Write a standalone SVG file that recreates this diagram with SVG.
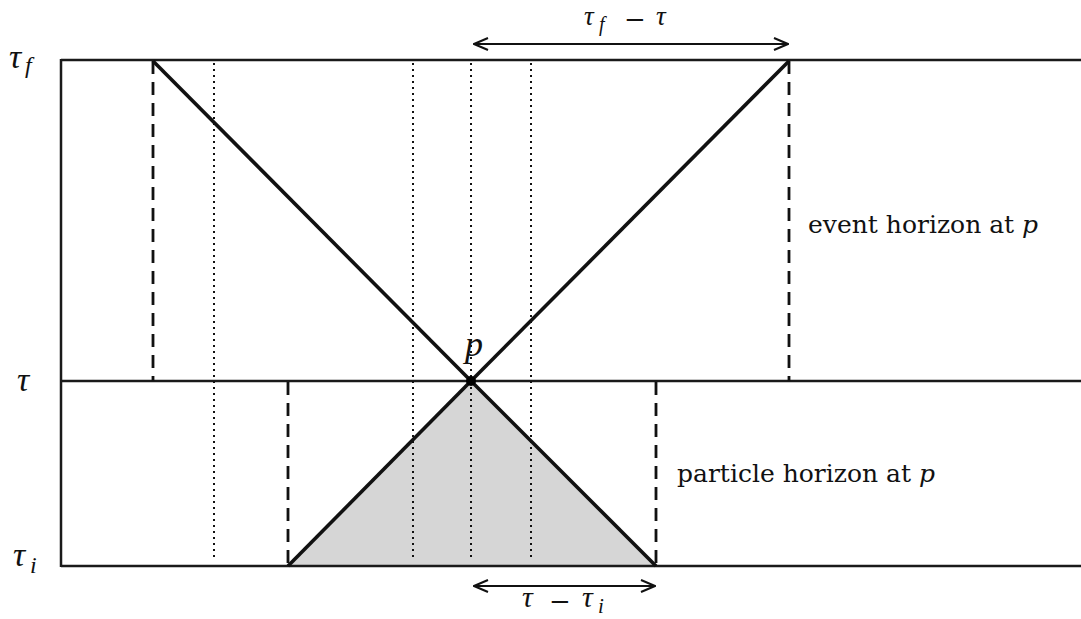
<svg xmlns="http://www.w3.org/2000/svg" width="1081" height="619" viewBox="0 0 1081 619">
<style>
.frame{stroke:#1a1a1a;stroke-width:2.5;fill:none}
.diag{stroke:#111;stroke-width:3.6;fill:none}
.dash{stroke:#111;stroke-width:2.8;stroke-dasharray:13 8;fill:none}
.dot{stroke:#111;stroke-width:2;stroke-dasharray:2 4;fill:none}
.arr{stroke:#111;stroke-width:2.2;fill:none}
.t{font-family:"DejaVu Serif","Liberation Serif",serif;fill:#111}
.m{font-family:"Liberation Serif","DejaVu Serif",serif;font-style:italic;fill:#111}
.op{font-family:"DejaVu Serif","Liberation Serif",serif;fill:#111}
</style>
<defs>
<marker id="ah" viewBox="0 0 16 14" refX="15" refY="7" markerWidth="16" markerHeight="14" markerUnits="userSpaceOnUse" orient="auto-start-reverse">
<path d="M1,1 L15,7 L1,13" fill="none" stroke="#111" stroke-width="2"/>
</marker>
</defs>
<rect width="1081" height="619" fill="#fff"/>
<g id="shade">
<polygon points="288,566 471,381 656,566" fill="#d6d6d6"/>
</g>
<g id="frame">
<line class="frame" x1="61" y1="60" x2="1081" y2="60"/>
<line class="frame" x1="61" y1="381" x2="1081" y2="381"/>
<line class="frame" x1="61" y1="566" x2="1081" y2="566"/>
<line class="frame" x1="61" y1="59" x2="61" y2="567"/>
</g>
<g id="dotted">
<line class="dot" x1="214" y1="63" x2="214" y2="560"/>
<line class="dot" x1="413" y1="63" x2="413" y2="560"/>
<line class="dot" x1="471" y1="63" x2="471" y2="560"/>
<line class="dot" x1="531" y1="63" x2="531" y2="560"/>
</g>
<g id="horizons">
<line class="dash" x1="153" y1="61" x2="153" y2="381"/>
<line class="dash" x1="789" y1="61" x2="789" y2="381"/>
<line class="dash" x1="288" y1="382" x2="288" y2="566"/>
<line class="dash" x1="656" y1="382" x2="656" y2="566"/>
</g>
<g id="cones">
<line class="diag" x1="153" y1="61" x2="471" y2="381"/>
<line class="diag" x1="789" y1="61" x2="471" y2="381"/>
<line class="diag" x1="288" y1="566" x2="471" y2="381"/>
<line class="diag" x1="656" y1="566" x2="471" y2="381"/>
</g>
<g id="point-p">
<circle cx="471" cy="381" r="5" fill="#000"/>
<text class="m" x="474" y="356" font-size="36" text-anchor="middle">p</text>
</g>
<g id="connectors">
<line class="arr" x1="474" y1="44" x2="788" y2="44" marker-start="url(#ah)" marker-end="url(#ah)"/>
<line class="arr" x1="474" y1="586" x2="655" y2="586" marker-start="url(#ah)" marker-end="url(#ah)"/>
</g>
<g id="labels">
<text class="m" font-size="34" x="9" y="68">τ</text>
<text class="m" font-size="24" x="25" y="73">f</text>
<text class="m" font-size="34" x="17" y="391">τ</text>
<text class="m" font-size="34" x="13" y="566">τ</text>
<text class="m" font-size="24" x="30" y="573">i</text>

<text class="m" font-size="27" x="584" y="25">τ</text>
<text class="m" font-size="20" x="599" y="31">f</text>
<text class="op" font-size="26" x="624" y="28">−</text>
<text class="m" font-size="27" x="656" y="25">τ</text>

<text class="m" font-size="30" x="522" y="607">τ</text>
<text class="op" font-size="26" x="549" y="610">−</text>
<text class="m" font-size="30" x="582" y="607">τ</text>
<text class="m" font-size="21" x="598" y="613">i</text>

<text class="t" x="808" y="233" font-size="25">event horizon at <tspan font-style="italic">p</tspan></text>
<text class="t" x="677" y="482" font-size="25">particle horizon at <tspan font-style="italic">p</tspan></text>
</g>
</svg>
